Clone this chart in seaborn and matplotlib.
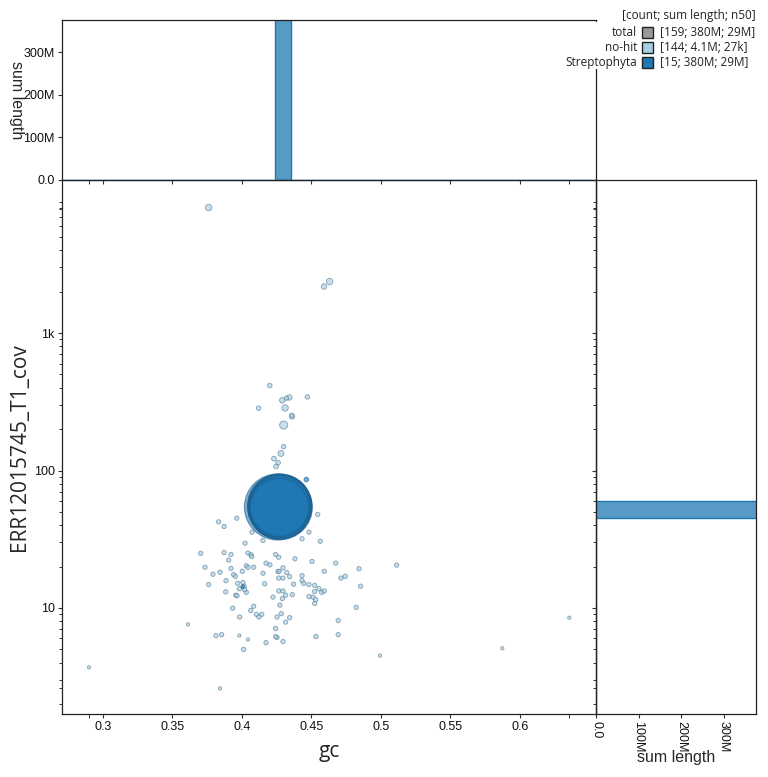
import numpy as np
import pandas as pd
import matplotlib
matplotlib.use("Agg")
import matplotlib.pyplot as plt
import matplotlib.ticker as mticker
from matplotlib.patches import Rectangle
import seaborn as sns

sns.set_theme(style="ticks")
plt.rcParams['font.family'] = ['Liberation Sans', 'DejaVu Sans']

# ---- data ----
# no-hit contigs
nohit_gc = [0.376, 0.463, 0.459, 0.420, 0.429, 0.432, 0.434, 0.447, 0.412, 0.431,
            0.436, 0.4358, 0.430, 0.430, 0.428, 0.423, 0.426, 0.4245,
            0.4545, 0.3962, 0.3832, 0.3871, 0.4072, 0.4482, 0.4151, 0.4432, 0.4563, 0.4022,
            0.3703, 0.3871, 0.3921, 0.4043, 0.4065, 0.4070, 0.4242, 0.4264, 0.4381, 0.3904,
            0.4504, 0.4674, 0.4173, 0.4201, 0.3734, 0.3921, 0.4031, 0.4043, 0.4084, 0.4295,
            0.4842, 0.5113, 0.4592, 0.3842, 0.4002, 0.4259, 0.4268, 0.4322, 0.3791, 0.3940,
            0.3952, 0.4151, 0.4343, 0.4432, 0.4743, 0.4712, 0.4264, 0.4295, 0.3885, 0.4432,
            0.4007, 0.3969, 0.4016, 0.3760, 0.4163, 0.4371, 0.4444, 0.4482, 0.4523,
            0.4853, 0.3981, 0.4031, 0.4019, 0.4554, 0.4523, 0.4573, 0.4592, 0.4264, 0.4295,
            0.3883, 0.3955, 0.3964, 0.4223, 0.4314, 0.4362, 0.4482, 0.4511, 0.4290, 0.4530,
            0.4523, 0.4273, 0.4084, 0.3933, 0.4822, 0.4063, 0.4103, 0.4142, 0.4122, 0.3983,
            0.4252, 0.4283, 0.4343, 0.4314, 0.4692, 0.3612, 0.4242, 0.3813, 0.3854, 0.3981,
            0.4043, 0.4242, 0.4252, 0.4295, 0.4173, 0.4532, 0.4692, 0.4012, 0.4993, 0.3842,
            0.5873, 0.6355, 0.2899]
nohit_cov = [8180, 2370, 2180, 415, 324, 336, 340, 343, 284, 285,
             247, 252, 214, 149, 133, 122, 114, 107,
             47.9, 45.0, 42.3, 39.2, 35.6, 35.6, 31.0, 31.9, 30.6, 29.6,
             25.0, 25.3, 24.5, 25.1, 24.4, 23.7, 24.5, 23.4, 22.8, 22.3,
             21.8, 21.2, 21.2, 20.6, 19.8, 19.4, 20.3, 19.7, 19.8, 19.6,
             19.3, 20.5, 18.5, 18.2, 18.5, 18.4, 18.5, 18.1, 17.6, 17.5,
             17.0, 17.9, 16.9, 17.2, 17.0, 16.5, 16.5, 16.5, 15.8, 15.8,
             15.3, 15.1, 14.4, 14.8, 15.0, 14.9, 15.1, 14.8, 14.6,
             14.4, 13.8, 13.0, 13.6, 13.8, 13.2, 13.0, 13.3, 13.3, 13.3,
             13.1, 12.4, 12.3, 12.0, 12.4, 12.5, 12.1, 12.0, 11.7, 11.5,
             10.8, 10.5, 10.3, 9.97, 10.1, 9.6, 9.0, 9.0, 8.6, 8.6,
             8.6, 9.1, 8.5, 7.9, 8.1, 7.6, 7.1, 6.3, 6.4, 6.3,
             5.9, 6.2, 6.1, 5.7, 5.6, 6.2, 6.4, 5.0, 4.5, 2.6,
             5.1, 8.5, 3.7]
nohit_len = [120e3, 120e3, 70e3, 30e3, 70e3, 25e3, 70e3, 30e3, 30e3, 120e3,
             60e3, 25e3, 250e3, 30e3, 90e3, 40e3, 35e3, 35e3,
             25e3, 25e3, 25e3, 25e3, 25e3, 25e3, 25e3, 25e3, 25e3, 25e3,
             25e3, 25e3, 25e3, 25e3, 25e3, 25e3, 25e3, 25e3, 25e3, 25e3,
             25e3, 25e3, 25e3, 25e3, 25e3, 25e3, 25e3, 25e3, 25e3, 25e3,
             25e3, 25e3, 25e3, 25e3, 25e3, 25e3, 25e3, 25e3, 25e3, 25e3,
             25e3, 25e3, 25e3, 25e3, 25e3, 25e3, 25e3, 25e3, 25e3, 25e3,
             25e3, 25e3, 25e3, 25e3, 25e3, 25e3, 25e3, 25e3, 25e3,
             25e3, 25e3, 25e3, 25e3, 25e3, 25e3, 25e3, 25e3, 25e3, 25e3,
             25e3, 25e3, 25e3, 25e3, 25e3, 25e3, 25e3, 25e3, 25e3, 25e3,
             25e3, 25e3, 25e3, 25e3, 25e3, 25e3, 25e3, 25e3, 25e3, 25e3,
             25e3, 25e3, 25e3, 25e3, 25e3, 4e3, 25e3, 25e3, 25e3, 4e3,
             4e3, 25e3, 25e3, 25e3, 25e3, 25e3, 25e3, 25e3, 4e3, 4e3,
             4e3, 4e3, 4e3]

# Streptophyta contigs
strep_gc = [0.4255, 0.4272, 0.4275, 0.4270, 0.4274, 0.4271, 0.4276, 0.4273,
            0.4270, 0.4275, 0.4272, 0.4274, 0.4269, 0.4463, 0.4005]
strep_cov = [54.3, 55.0, 53.8, 54.6, 55.4, 53.5, 54.9, 54.1,
             55.7, 53.2, 54.4, 56.0, 53.9, 86.0, 14.3]
strep_len = [33.0e6, 31.5e6, 31.0e6, 30.5e6, 30.0e6, 29.5e6, 29.0e6, 29.0e6,
             28.5e6, 28.0e6, 27.5e6, 27.0e6, 25.5e6, 30e3, 6e3]

legend_names = ["total", "no-hit", "Streptophyta"]
legend_stats = ["[159; 380M; 29M]", "[144; 4.1M; 27k]", "[15; 380M; 29M]"]
legend_colors = ["#999999", "#a6cee3", "#1f78b4"]

nohit = pd.DataFrame({"gc": nohit_gc, "cov": nohit_cov, "length": nohit_len})
strep = pd.DataFrame({"gc": strep_gc, "cov": strep_cov, "length": strep_len})

# circle radius (px) ~ sqrt(length)
R_MIN, R_MAX, LEN_MAX = 1.3, 33.0, 33e6
DPI = 100


def marker_area(lengths):
    r = R_MIN + (R_MAX - R_MIN) * np.sqrt(np.asarray(lengths) / LEN_MAX)
    return (2 * r * 72 / DPI) ** 2


def sum_fmt(v, p):
    return "0.0" if v == 0 else f"{v / 1e6:.0f}M"


fig = plt.figure(figsize=(7.68, 7.77), dpi=DPI)
W, H = 768, 777


def box(l, t, r, b):
    return [l / W, 1 - b / H, (r - l) / W, (b - t) / H]


ax = fig.add_axes(box(62, 180, 596, 714))
ax_top = fig.add_axes(box(62, 20, 596, 180), sharex=ax)
ax_right = fig.add_axes(box(596, 180, 756, 714), sharey=ax)

title_font = ['Open Sans', 'DejaVu Sans']

# scatter
nohit_sorted = nohit.sort_values("length", ascending=False)
sns.scatterplot(x="gc", y="cov", data=nohit_sorted,
                s=marker_area(nohit_sorted["length"]),
                color="#a6cee3", edgecolor="#4f7690", linewidth=0.6, alpha=0.65,
                ax=ax, legend=False, zorder=3)
sns.scatterplot(x="gc", y="cov", data=strep,
                s=marker_area(strep["length"]),
                color="#1f78b4", edgecolor="#1d5f8c", linewidth=0.8, alpha=0.6,
                ax=ax, legend=False, zorder=4)
ax.set_yscale("log")

# top histogram (gc)
x_bins = list(np.arange(0.2627, 0.67, 0.0115))
sns.histplot(x="gc", weights="length", data=nohit, bins=x_bins, color="#a6cee3",
             edgecolor="#a6cee3", alpha=0.75, linewidth=1, ax=ax_top)
sns.histplot(x="gc", weights="length", data=strep, bins=x_bins, color="#1f78b4",
             edgecolor="#1f78b4", alpha=0.75, linewidth=1, ax=ax_top)

# right histogram (coverage), bins in log10 units
y_bins = list(np.arange(0.189, 4.3, 0.122))
sns.histplot(y="cov", weights="length", data=nohit, bins=y_bins, log_scale=(False, True),
             color="#a6cee3", edgecolor="#a6cee3", alpha=0.75, linewidth=1, ax=ax_right)
sns.histplot(y="cov", weights="length", data=strep, bins=y_bins, log_scale=(False, True),
             color="#1f78b4", edgecolor="#1f78b4", alpha=0.75, linewidth=1, ax=ax_right)

# ---- axes: limits, ticks, labels ----
ax.set_xlim(0.2705, 0.6547)
ax.set_ylim(10 ** 0.229, 10 ** 4.113)

ax.xaxis.set_major_locator(mticker.FixedLocator([0.3, 0.35, 0.4, 0.45, 0.5, 0.55, 0.6]))
ax.xaxis.set_major_formatter(mticker.FuncFormatter(lambda v, p: f"{v:g}"))
all_gc = nohit_gc + strep_gc
ax.xaxis.set_minor_locator(mticker.FixedLocator([min(all_gc), max(all_gc)]))
ax.xaxis.set_minor_formatter(mticker.NullFormatter())

ax.yaxis.set_major_locator(mticker.FixedLocator([10, 100, 1000]))
ax.yaxis.set_major_formatter(mticker.FuncFormatter(
    lambda v, p: "1k" if v >= 1000 else f"{v:g}"))
minors = [m * 10 ** e for e in range(0, 4) for m in range(2, 10)]
all_cov = nohit_cov + strep_cov
ax.yaxis.set_minor_locator(mticker.FixedLocator(minors + [min(all_cov), max(all_cov)]))
ax.yaxis.set_minor_formatter(mticker.NullFormatter())

ax.set_xlabel("gc", fontsize=15, family=title_font)
ax.set_ylabel("ERR12015745_T1_cov", fontsize=15, family=title_font)
ax.xaxis.set_label_coords(0.5, -0.071)
ax.yaxis.set_label_coords(-0.079, 0.5)
ax.xaxis.label.set_va("center")
ax.yaxis.label.set_va("center")

ax_top.set_ylim(0, 376e6)
ax_top.yaxis.set_major_locator(mticker.FixedLocator([0, 100e6, 200e6, 300e6]))
ax_top.yaxis.set_major_formatter(mticker.FuncFormatter(sum_fmt))
ax_top.tick_params(axis="x", which="both", labelbottom=False)
ax_top.set_xlabel("")
ax_top.set_ylabel("sum length", fontsize=11.5, rotation=-90)
ax_top.yaxis.set_label_coords(-0.085, 0.5)
ax_top.yaxis.label.set_va("center")

ax_right.set_xlim(0, 376e6)
ax_right.xaxis.set_major_locator(mticker.FixedLocator([0, 100e6, 200e6, 300e6]))
ax_right.xaxis.set_major_formatter(mticker.FuncFormatter(sum_fmt))
ax_right.tick_params(axis="y", which="both", labelleft=False)
ax_right.set_ylabel("")
ax_right.set_xlabel("sum length", fontsize=11.5)
ax_right.xaxis.set_label_coords(0.5, -0.082)
ax_right.xaxis.label.set_va("center")

for a in (ax, ax_top, ax_right):
    for sp in a.spines.values():
        sp.set_visible(True)
        sp.set_color("#222222")
        sp.set_linewidth(0.9)
    a.tick_params(which="major", direction="out", length=3.2, width=0.8,
                  color="#333333", labelsize=9, labelcolor="#111111", pad=2)
    a.tick_params(which="minor", direction="out", length=2.4, width=0.7, color="#333333")
    a.tick_params(top=False, right=False, which="both")
ax.tick_params(axis="x", which="minor", length=3.2)
ax_top.tick_params(axis="x", which="minor", length=3.2)
ax_right.tick_params(axis="x", which="major", pad=2)
for lab in ax_right.get_xticklabels():
    lab.set_rotation(-90)
    lab.set_va("top")
    lab.set_ha("center")

# legend block (drawn as figure text)
fig.add_artist(Rectangle((570 / W, 1 - 69 / H), 198 / W, 47 / H, transform=fig.transFigure,
                         facecolor="white", edgecolor="none", zorder=5))
fig.text(756 / W, 1 - 15.7 / H, "[count; sum length; n50]", ha="right", va="center",
         fontsize=8.5, family=title_font, color="#222222", zorder=6)
for i, (name, stat, col) in enumerate(zip(legend_names, legend_stats, legend_colors)):
    yc = 32.3 + 15 * i
    fig.text(637 / W, 1 - yc / H, name, ha="right", va="center",
             fontsize=8.5, family=title_font, color="#222222", zorder=6)
    fig.add_artist(Rectangle((642 / W, 1 - (yc + 5.5) / H), 11 / W, 11 / H,
                             transform=fig.transFigure, facecolor=col,
                             edgecolor="#222222", linewidth=1, zorder=6))
    fig.text(660 / W, 1 - yc / H, stat, ha="left", va="center",
             fontsize=8.5, family=title_font, color="#222222", zorder=6)

plt.savefig("out.png", dpi=DPI)
